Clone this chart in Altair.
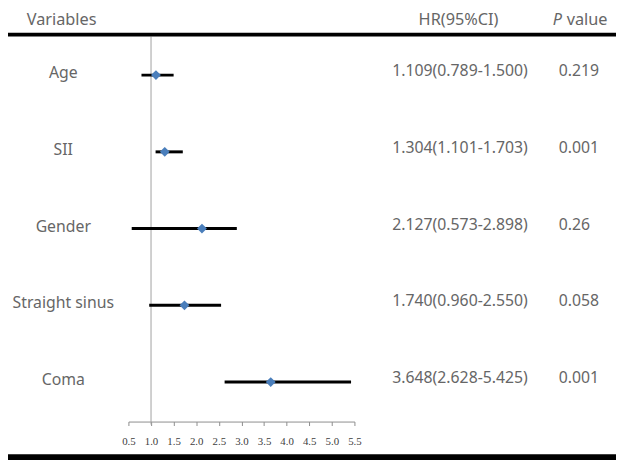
import altair as alt
import pandas as pd

variables = ["Age", "SII", "Gender", "Straight sinus", "Coma"]
hr = [1.109, 1.304, 2.127, 1.740, 3.648]
lo = [0.789, 1.101, 0.573, 0.960, 2.628]
hi = [1.500, 1.703, 2.898, 2.550, 5.425]
hr_text = ["1.109(0.789-1.500)", "1.304(1.101-1.703)", "2.127(0.573-2.898)",
           "1.740(0.960-2.550)", "3.648(2.628-5.425)"]
p_text = ["0.219", "0.001", "0.26", "0.058", "0.001"]
tick_values = [0.5, 1.0, 1.5, 2.0, 2.5, 3.0, 3.5, 4.0, 4.5, 5.0, 5.5]
headers_text = ["Variables", "HR(95%CI)", "value"]

df = pd.DataFrame({"var": variables, "hr": hr, "lo": lo, "hi": hi,
                   "hr_text": hr_text, "p": p_text})

FONT = "Noto Sans"
GREY = "#666666"

yscale = alt.Scale(type="point", domain=variables, range=[65, 376], padding=0)
xscale = alt.Scale(domain=[0.5, 5.5], range=[122, 351], nice=False, zero=False)
Y = alt.Y("var:N", scale=yscale, axis=None)

base = alt.Chart(df)

ci = base.mark_rule(color="black", strokeWidth=3, clip=False).encode(
    x=alt.X("lo:Q", scale=xscale,
            axis=alt.Axis(values=tick_values, format=".1f", title=None, grid=False,
                          domainColor="#8c8c8c", tickColor="#8c8c8c", tickSize=4,
                          labelFont="Liberation Serif", labelFontSize=11,
                          labelColor="#404040", labelPadding=10, labelFlush=False)),
    x2="hi:Q",
    y=Y,
)
pts = base.mark_point(shape="diamond", filled=True, color="#4a7ebb", opacity=1, size=100, clip=False).encode(
    x=alt.X("hr:Q", scale=xscale, axis=None),
    y=Y,
)

ref = alt.Chart(pd.DataFrame({"v": [1.0]})).mark_rule(color="#a0a0a0", strokeWidth=1, clip=False).encode(
    x=alt.X("v:Q", scale=xscale, axis=None),
    y=alt.value(26),
    y2=alt.value(419),
)

names = base.mark_text(font=FONT, fontSize=16, color=GREY, align="center", baseline="middle",
                       dy=-2, clip=False).encode(
    x=alt.value(56), y=Y, text="var:N")
hrs = base.mark_text(font=FONT, fontSize=16, color=GREY, align="center", baseline="middle",
                     dy=-4, clip=False).encode(
    x=alt.value(458), y=Y, text="hr_text:N")
ps = base.mark_text(font=FONT, fontSize=16, color=GREY, align="left", baseline="middle",
                    dy=-4, clip=False).encode(
    x=alt.value(558), y=Y, text="p:N")

hdr = pd.DataFrame({"t": headers_text, "x": [19, 416, 566]})
headers = alt.Chart(hdr).mark_text(font=FONT, fontSize=16.5, color=GREY, align="left", baseline="middle", clip=False).encode(
    x=alt.X("x:Q", scale=alt.Scale(domain=[0, 616], range=[0, 616]), axis=None),
    y=alt.value(9), text="t:N")
phdr = alt.Chart(pd.DataFrame({"t": ["P"]})).mark_text(
    font=FONT, fontSize=16.5, color=GREY, align="left", baseline="middle", fontStyle="italic", clip=False).encode(
    x=alt.value(552), y=alt.value(9), text="t:N")

top_line = alt.Chart(pd.DataFrame({"a": [0]})).mark_rule(color="black", strokeWidth=4, clip=False).encode(
    x=alt.value(0), x2=alt.value(616), y=alt.value(24))
bot_line = alt.Chart(pd.DataFrame({"a": [0]})).mark_rule(color="black", strokeWidth=6, clip=False).encode(
    x=alt.value(0), x2=alt.value(616), y=alt.value(452))

chart = alt.layer(ref, ci, pts, names, hrs, ps, headers, phdr, top_line, bot_line).resolve_scale(
    x="independent"
).properties(
    width=616, height=416,
    autosize=alt.AutoSizeParams(type="none"),
    padding={"left": 0, "top": 0, "right": 0, "bottom": 40},
).configure_view(stroke=None)

chart.save("out.html", embed_options={"renderer": "svg", "actions": False})
